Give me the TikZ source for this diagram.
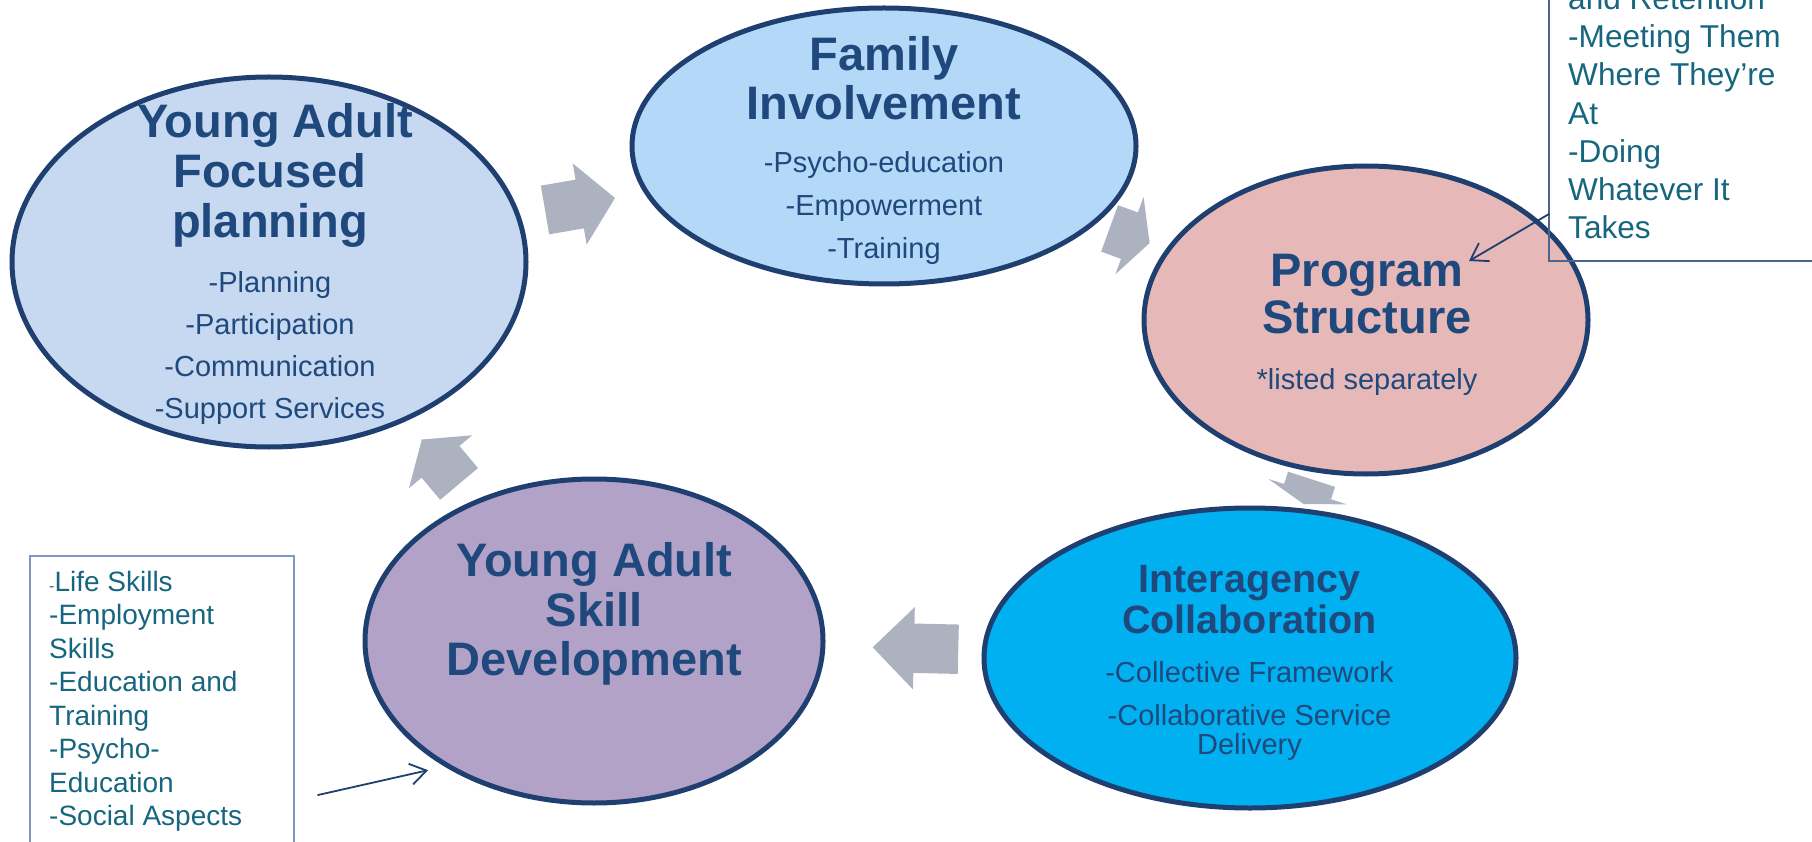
\documentclass[tikz,border=0pt]{standalone}
\usepackage{fontspec}
\setmainfont{Liberation Sans}
\usepackage{xcolor}
\definecolor{planblue}{HTML}{C6D9F1}
\definecolor{familyblue}{HTML}{B4D8F8}
\definecolor{programpink}{HTML}{E6B9B8}
\definecolor{agencycyan}{HTML}{00B0F0}
\definecolor{skillpurple}{HTML}{B2A2C7}
\definecolor{ringnavy}{HTML}{1F3F70}
\definecolor{textnavy}{HTML}{1F497D}
\definecolor{cyclegray}{HTML}{ACB2C0}
\definecolor{noteteal}{HTML}{17667F}
\definecolor{noteline}{HTML}{8197C4}
\usepackage{tikz}
\usetikzlibrary{shapes.geometric,shapes.arrows,arrows.meta}

\begin{document}
\begin{tikzpicture}[x=1pt,y=-1pt,line cap=round,
  bubble/.style={ellipse,draw=ringnavy,line width=5pt,inner sep=0pt},
  ttl/.style={font=\fontsize{#1}{#1}\selectfont\bfseries,text=textnavy,
              inner sep=0pt,anchor=base},
  ttl/.default=47,
  itm/.style={font=\fontsize{29}{29}\selectfont,text=textnavy,
              inner sep=0pt,anchor=base},
  note/.style={font=\fontsize{#1}{#1}\selectfont,text=noteteal,
               inner sep=0pt,anchor=base west},
  note/.default=28,
  cyc/.style={single arrow,fill=cyclegray,inner xsep=0pt,inner ysep=24.5pt,
              outer sep=0pt,anchor=tip,single arrow head extend=16.5pt},
  pointer/.style={-{Straight Barb[length=16pt,width=21pt]},line width=1.8pt,
                  ringnavy}]

  \useasboundingbox (0,0) rectangle (1812,842);
  \clip (0,0) rectangle (1812,842);

  % cycle arrows (placed by their tips, under the bubbles)
  \node[cyc,minimum height=71pt,single arrow tip angle=98,rotate=9.7]
    (arrfamily) at (615,198) {};
  \node[cyc,minimum height=42.6pt,single arrow tip angle=125,rotate=-20]
    (arrprogram) at (1149.6,243) {};
  \node[cyc,minimum height=26pt,single arrow tip angle=145,rotate=-108]
    (arragency) at (1303.5,504) {};
  \node[cyc,minimum height=85.6pt,single arrow tip angle=90,rotate=178.7]
    (arrskill) at (872.7,647.3) {};
  \node[cyc,minimum height=58pt,single arrow tip angle=109.5,rotate=130]
    (arrplan) at (421.8,439.5) {};

  % bubbles
  \node[bubble,fill=planblue,minimum width=514pt,minimum height=370pt]
    (plan) at (269,262) {};
  \node[bubble,fill=familyblue,minimum width=504pt,minimum height=276pt]
    (family) at (884,146) {};
  \node[bubble,fill=programpink,minimum width=444pt,minimum height=308pt]
    (program) at (1366,320) {};
  \node[bubble,fill=agencycyan,minimum width=532pt,minimum height=300pt]
    (agency) at (1250,658) {};
  \node[bubble,fill=skillpurple,minimum width=458pt,minimum height=324pt]
    (skill) at (594,641) {};

  % young adult focused planning
  \node[ttl] (plant1) at (275,138) {Young Adult};
  \node[ttl] (plant2) at (270,188) {Focused};
  \node[ttl] (plant3) at (270,238) {planning};
  \node[itm] (plani1) at (270,292.7) {-Planning};
  \node[itm] (plani2) at (270,334.5) {-Participation};
  \node[itm] (plani3) at (270,376.3) {-Communication};
  \node[itm] (plani4) at (270,418.1) {-Support Services};

  % family involvement
  \node[ttl] (famt1) at (884,70.7) {Family};
  \node[ttl] (famt2) at (884,119.3) {Involvement};
  \node[itm] (fami1) at (884,173) {-Psycho-education};
  \node[itm] (fami2) at (884,216) {-Empowerment};
  \node[itm] (fami3) at (884,259) {-Training};

  % program structure
  \node[ttl] (progt1) at (1367,286.7) {Program};
  \node[ttl] (progt2) at (1367,334) {Structure};
  \node[itm] (progi1) at (1367,389.3) {*listed separately};

  % interagency collaboration
  \node[ttl=39.5] (agent1) at (1249.5,592.7) {Interagency};
  \node[ttl=39.5] (agent2) at (1249.5,633.3) {Collaboration};
  \node[itm] (agei1) at (1249.5,682.7) {-Collective Framework};
  \node[itm] (agei2) at (1249.5,725) {-Collaborative Service};
  \node[itm] (agei3) at (1249.5,754) {Delivery};

  % young adult skill development
  \node[ttl] (skillt1) at (594.3,576.7) {Young Adult};
  \node[ttl] (skillt2) at (594.3,626) {Skill};
  \node[ttl] (skillt3) at (594.3,675) {Development};

  % note boxes
  \node[draw=ringnavy!80,line width=1.2pt,inner sep=0pt,outer sep=0pt,
        minimum width=300pt,minimum height=330pt,anchor=south west]
    (reachbox) at (1549,261) {};
  \node[note=31.6] (reach1) at (1568,9.5) {and Retention};
  \node[note=31.6] (reach2) at (1568,47.75) {-Meeting Them};
  \node[note=31.6] (reach3) at (1568,86) {Where They’re};
  \node[note=31.6] (reach4) at (1568,124.25) {At};
  \node[note=31.6] (reach5) at (1568,162.5) {-Doing};
  \node[note=31.6] (reach6) at (1568,200.75) {Whatever It};
  \node[note=31.6] (reach7) at (1568,239) {Takes};

  \node[draw=noteline,line width=1.5pt,inner sep=0pt,outer sep=0pt,
        minimum width=264pt,minimum height=330pt,anchor=north west]
    (skillbox) at (30,556) {};
  \node[note] (skilln1) at (49,591) {{\fontsize{16}{16}\selectfont-}Life Skills};
  \node[note] (skilln2) at (49,624.5) {-Employment};
  \node[note] (skilln3) at (49,658) {Skills};
  \node[note] (skilln4) at (49,691.5) {-Education and};
  \node[note] (skilln5) at (49,725) {Training};
  \node[note] (skilln6) at (49,758.5) {-Psycho-};
  \node[note] (skilln7) at (49,792) {Education};
  \node[note] (skilln8) at (49,825.5) {-Social Aspects};

  % pointers from the notes
  \coordinate (progtip) at (1469,261);
  \draw[pointer] ([yshift=47pt]reachbox.south west) -- (progtip);
  \coordinate (skillfrom) at (318,795);
  \draw[pointer,shorten >=16.7pt] (skillfrom) -- (skill.220);
\end{tikzpicture}
\end{document}
